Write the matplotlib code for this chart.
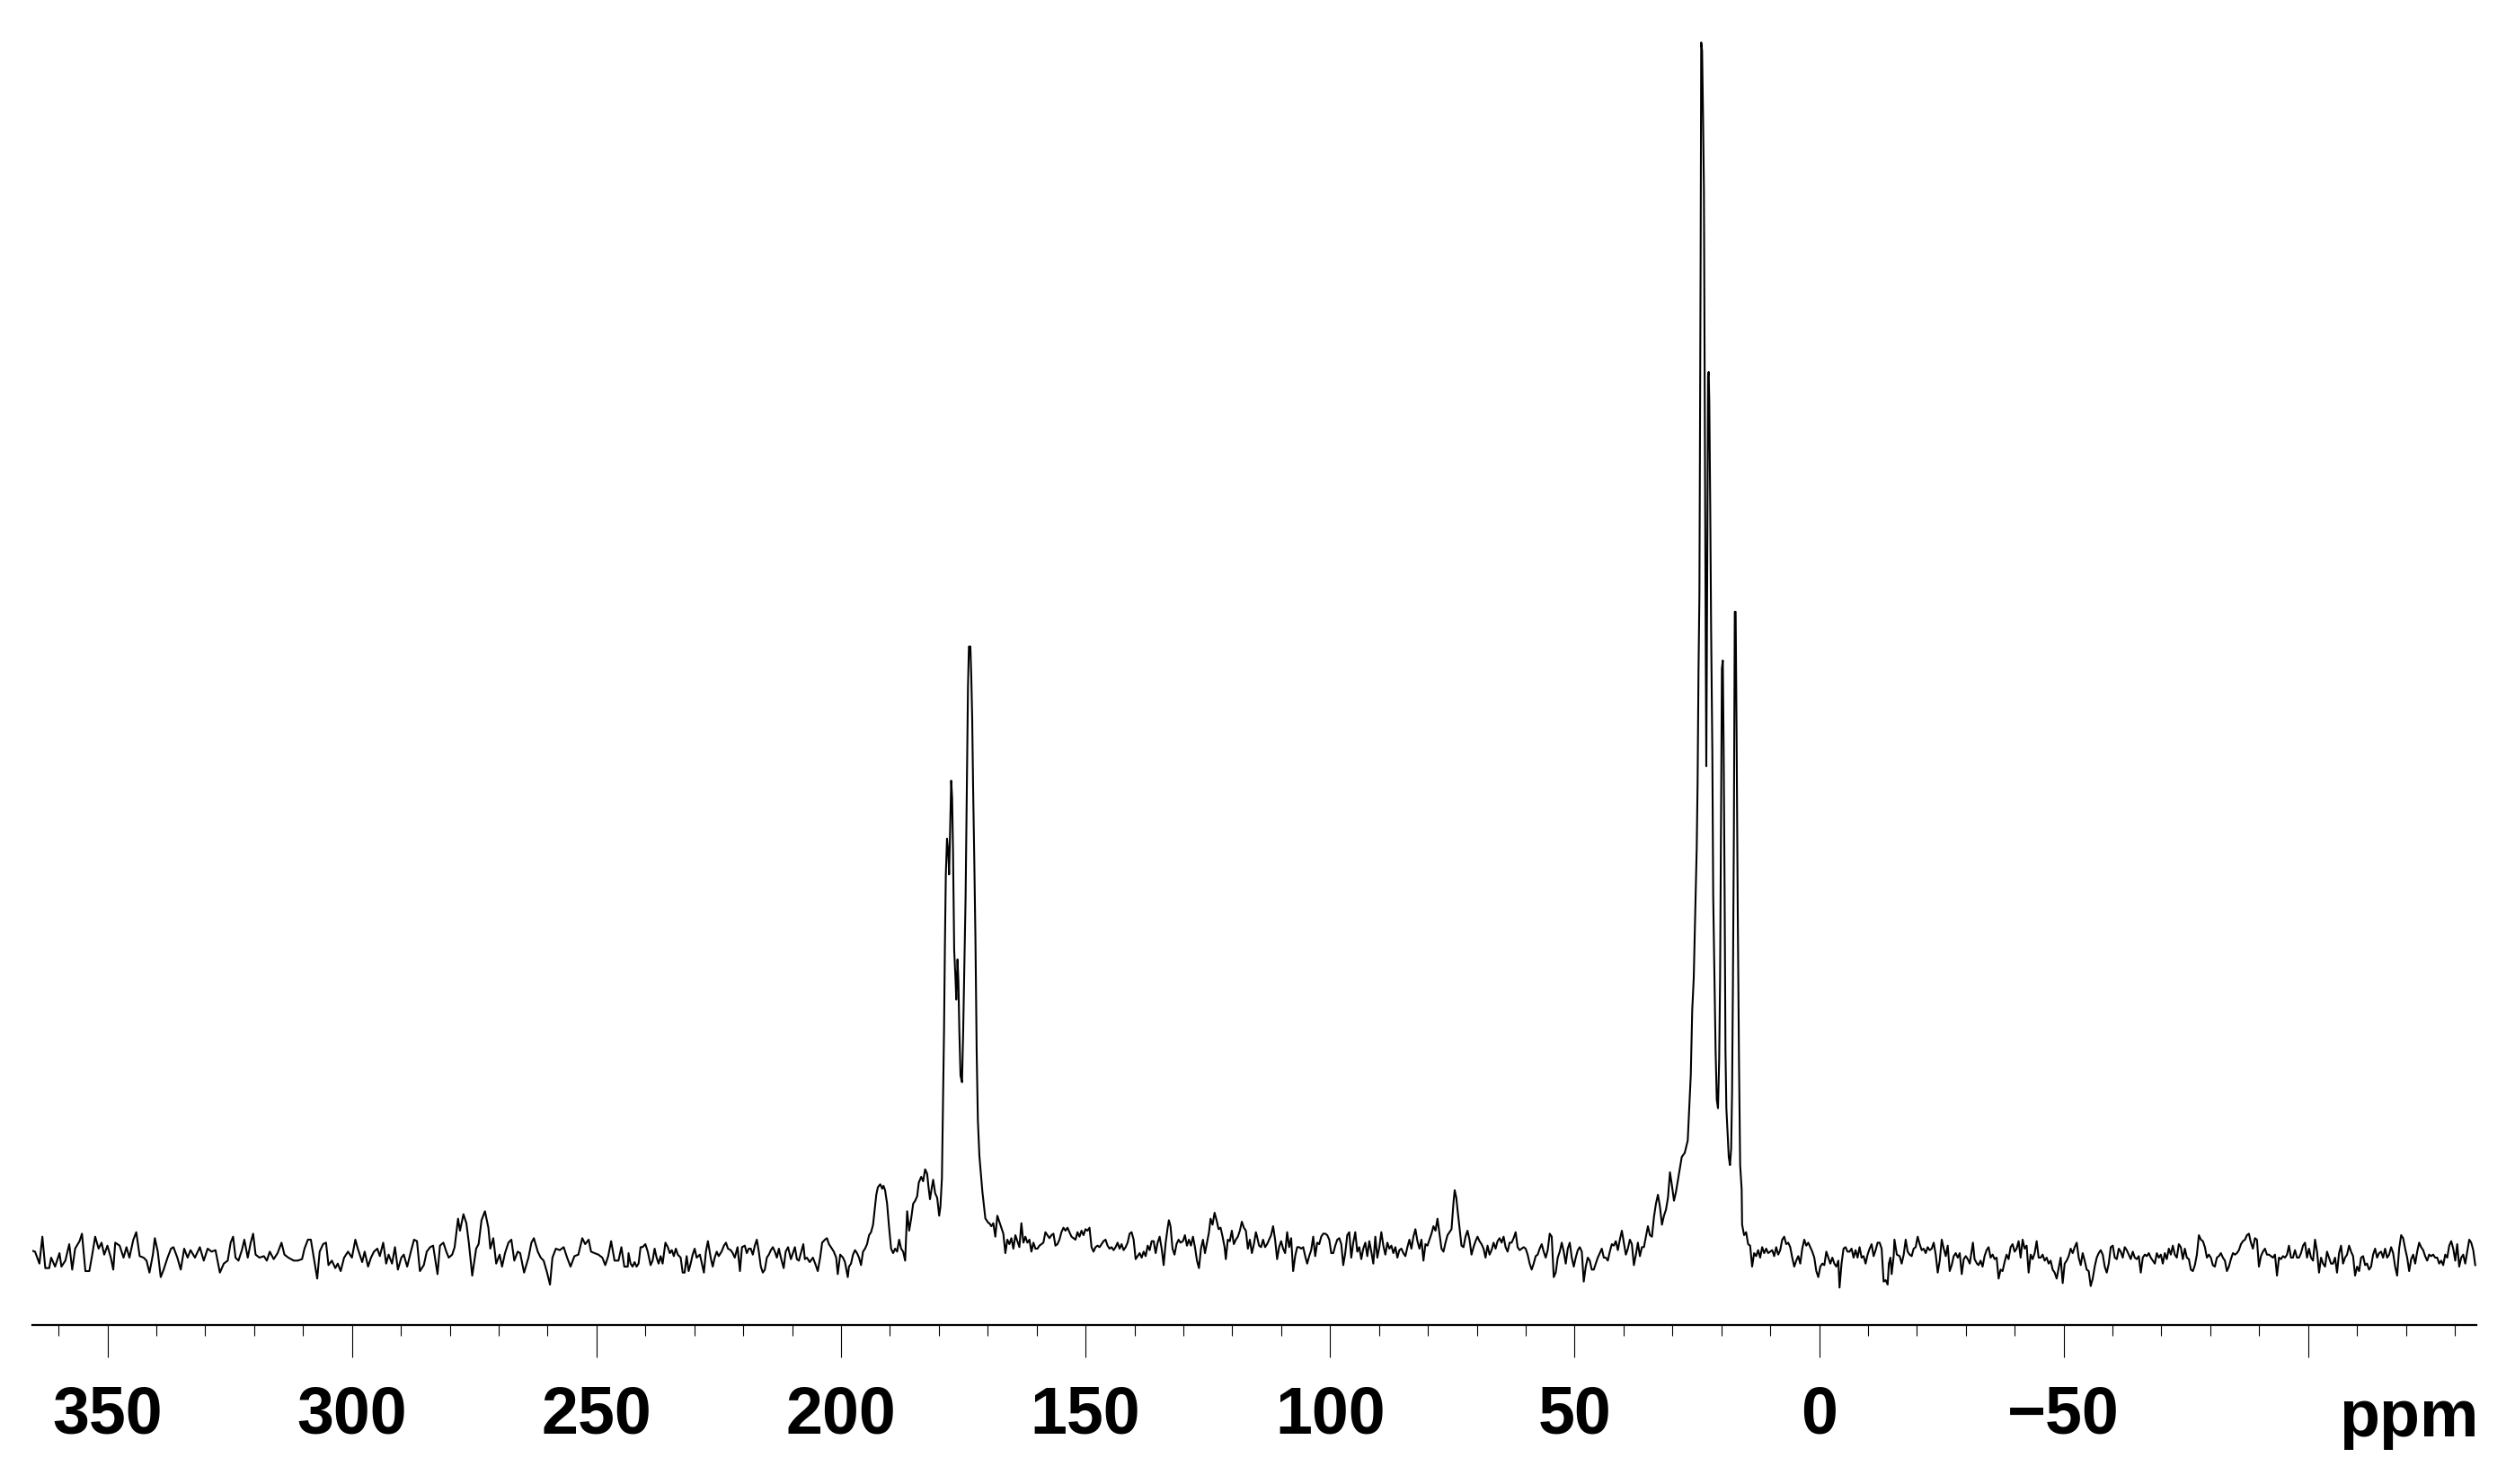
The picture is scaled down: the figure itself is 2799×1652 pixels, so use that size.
import numpy as np
import matplotlib.pyplot as plt
from matplotlib.ticker import FixedLocator, MultipleLocator
import matplotlib.transforms as mtransforms

plt.rcParams['font.family'] = ['Liberation Sans', 'DejaVu Sans']
plt.rcParams['font.weight'] = 'bold'

# spectrum traced piece by piece: (ppm, intensity in arbitrary units)
seg_a = [(365.2, 7), (364.8, 5), (363.9, -35), (363.3, 55), (362.7, -50), (361.9, -50), (361.5, -15),
         (360.7, -45), (359.8, 0), (359.4, -45), (358.6, -25), (357.8, 30), (357.2, -55), (356.6, 15),
         (355.7, 40), (355.2, 65), (354.5, -60), (353.7, -60), (353.1, -5), (352.5, 55), (351.8, 15),
         (351.2, 35), (350.65, -5), (350.0, 25), (349.3, -15), (348.8, -55), (348.4, 35), (347.5, 25),
         (346.7, -15), (346.1, 20), (345.5, -15), (344.7, 45), (344.1, 70), (343.4, -10), (342.6, -15),
         (342.0, -25), (341.4, -65), (340.7, -5), (340.3, 50), (339.7, 5), (339.1, -80), (338.5, -55),
         (337.7, -15), (337.0, 15), (336.5, 20), (335.7, -15), (335.0, -55), (334.3, 15), (333.6, -15),
         (333.0, 10), (332.1, -15), (331.1, 20), (330.3, -25), (329.5, 15), (328.7, 5), (327.9, 10),
         (327.0, -65), (326.2, -35), (325.4, -25), (324.8, 35), (324.3, 55), (323.8, -15), (323.2, -25),
         (322.5, 10), (322.0, 45), (321.3, -15), (320.7, 35), (320.2, 65), (319.7, -5), (318.9, -15),
         (318.0, -10), (317.4, -25), (316.8, 5), (316.0, -20), (315.2, 0), (314.4, 35), (313.8, -5),
         (313.0, -15), (311.9, -25), (311.1, -25), (310.2, -20), (309.7, 15), (309.0, 45), (308.4, 45),
         (307.8, -15), (307.1, -85), (306.6, 5), (305.9, 30), (305.3, 35), (304.8, -40), (304.1, -25),
         (303.4, -50), (302.9, -35), (302.3, -60), (301.6, -15), (300.8, 5), (300.0, -15), (299.3, 45),
         (298.8, 15), (297.9, -30), (297.4, 5), (296.7, -45), (296.1, -15), (295.5, 5), (294.8, 15),
         (294.3, -10), (293.6, 35), (293.0, -35), (292.5, -5), (291.8, -35), (291.2, 20), (290.6, -55),
         (289.9, -15), (289.4, -5), (288.7, -45), (287.95, 5), (287.3, 45), (286.7, 40), (286.1, -60),
         (285.3, -40), (284.7, 5), (284.0, 20), (283.4, 25), (282.5, -70), (282.0, 25), (281.3, 35),
         (280.7, 5), (280.2, -15), (279.5, -5), (279.0, 20), (278.3, 115), (277.9, 75), (277.2, 130),
         (276.6, 100), (276.1, 35), (275.4, -75), (274.6, 15), (274.1, 30), (273.5, 110), (272.8, 140),
         (272.1, 85), (271.7, 15), (271.1, 50), (270.5, -35), (269.8, -5), (269.3, -45), (268.7, 0),
         (268.0, 35), (267.4, 45), (266.8, -25), (266.1, 5), (265.6, 0), (264.8, -65), (263.9, -15),
         (263.3, 35), (262.8, 50), (262.0, 5), (261.4, -15), (260.8, -25), (260.1, -65), (259.5, -105),
         (259.0, -15), (258.3, 15), (257.5, 10), (256.7, 20), (256.0, -15), (255.3, -45), (254.5, -10),
         (253.7, -5), (252.9, 50), (252.3, 30), (251.6, 45), (251.1, 5), (250.4, 0), (249.6, -5),
         (248.8, -15), (248.2, -40), (247.6, -10), (247.0, 40), (246.3, -25), (245.5, -25), (244.9, 20),
         (244.3, -45), (243.6, -45)]

seg_b = [(243.44, 0), (243.03, -35), (242.62, -45), (242.21, -30), (241.80, -45), (241.39, -35),
         (240.98, 20), (240.57, 20), (240.0, 30), (239.51, 5), (238.93, -40), (238.52, -25), (238.11, 15),
         (237.70, -15), (237.29, -35), (236.88, -10), (236.47, -35), (235.90, 35), (235.41, 20), (235.0, 0),
         (234.59, 10), (234.18, -10), (233.77, 15), (233.36, -5), (232.78, -15), (232.37, -65),
         (231.97, -65), (231.56, -10), (231.15, -60), (230.74, -35), (230.33, -5), (229.92, 15),
         (229.51, -15), (228.85, -5), (228.44, -35), (228.03, -65), (227.62, 5), (227.21, 40),
         (226.64, -15), (226.23, -45), (225.82, -15), (225.41, 5), (225.0, -10), (224.42, 5), (223.93, 25),
         (223.52, 35), (223.11, 15), (222.54, 10), (222.13, 0), (221.72, -15), (221.15, 20), (220.66, -60),
         (220.24, 20), (219.67, 25), (219.26, 0), (218.85, 15), (218.44, 15), (218.03, -5), (217.62, 25),
         (217.21, 45), (216.80, 5), (216.39, -45), (215.98, -65), (215.57, -55), (215.16, -15),
         (214.75, -5), (214.34, 10), (213.93, 20), (213.52, 5), (213.11, -15), (212.70, 15), (212.29, -15),
         (211.72, -50), (211.31, 5), (210.82, 20), (210.24, -20), (209.83, 0), (209.42, 20), (209.02, -20),
         (208.61, -25), (208.20, 0), (207.70, 30), (207.38, -20), (206.97, -15), (206.39, -30),
         (205.74, -15), (205.16, -40), (204.75, -60), (204.26, -15), (203.85, 35), (203.28, 45),
         (202.87, 50), (202.46, 30), (202.05, 20), (201.47, 5), (200.98, -15), (200.66, -70),
         (200.16, -5), (199.59, -15), (199.18, -30), (198.61, -80), (198.36, -45), (197.95, -35),
         (197.54, -5), (197.13, 10), (196.72, 0), (196.31, -15), (195.90, -40), (195.49, 5), (195.08, 15),
         (194.67, 30), (194.26, 60), (193.85, 70), (193.44, 95), (193.11, 145), (192.78, 195),
         (192.46, 220), (191.97, 230), (191.56, 215), (191.31, 225), (190.98, 210), (190.57, 165),
         (190.16, 85), (189.75, 15), (189.34, 0), (188.93, 15), (188.52, 5), (188.11, 45), (187.70, 15),
         (187.29, 5), (186.88, -25), (186.47, 140), (186.06, 75), (185.65, 115), (185.24, 165),
         (184.83, 175), (184.42, 190), (184.10, 235), (183.60, 255), (183.20, 240), (182.79, 280),
         (182.38, 265), (182.13, 225), (181.80, 180), (181.47, 215), (181.15, 245), (180.74, 200),
         (180.33, 185), (179.92, 125), (179.67, 155)]

seg_c = [(179.36, 250), (179.17, 459), (178.93, 743), (178.74, 1041), (178.56, 1265), (178.32, 1384),
         (178.07, 1340), (177.89, 1265), (177.70, 1399), (177.46, 1578), (177.27, 1519), (177.09, 1340),
         (176.85, 1011), (176.60, 922), (176.42, 847), (176.17, 981), (175.99, 907), (175.80, 743),
         (175.56, 593), (175.25, 571), (175.01, 743), (174.76, 967), (174.52, 1190), (174.27, 1563),
         (174.03, 1892), (173.84, 2026), (173.54, 2026), (173.35, 1922), (173.17, 1787), (172.99, 1563),
         (172.74, 1310), (172.50, 1041), (172.25, 668), (172.01, 444), (171.70, 325), (171.39, 265),
         (171.09, 206), (170.48, 116), (169.86, 101)]

seg_d = [(169.67, 100), (169.26, 90), (168.85, 100), (168.44, 55), (168.03, 125), (167.62, 105),
         (167.21, 85), (166.80, 65), (166.39, 0), (165.98, 45), (165.57, 30), (165.16, 50), (164.75, 15),
         (164.34, 60), (163.93, 40), (163.52, 20), (163.11, 100), (162.70, 35), (162.29, 55), (161.88, 35),
         (161.47, 45), (161.06, 5), (160.65, 35), (160.24, 15), (159.83, 15), (159.42, 25), (159.02, 30),
         (158.61, 35), (158.20, 70), (157.79, 60), (157.38, 50), (156.97, 60), (156.56, 65), (156.15, 25),
         (155.74, 30), (155.33, 45), (154.92, 70), (154.51, 85), (154.10, 75), (153.69, 85), (153.28, 70),
         (152.87, 55), (152.46, 50), (152.05, 45), (151.64, 70), (151.23, 55), (150.82, 75), (150.41, 60),
         (150.0, 80), (149.59, 75), (149.18, 85), (148.77, 20), (148.36, 5), (147.95, 20), (147.54, 25),
         (147.13, 20), (146.72, 30), (146.31, 40), (145.90, 45), (145.49, 25), (145.08, 15), (144.67, 20),
         (144.26, 10), (143.85, 20), (143.44, 35), (143.03, 15), (142.62, 30), (142.21, 10), (141.80, 20),
         (141.39, 35), (140.98, 65), (140.57, 70), (140.16, 45), (139.75, -20), (139.34, -10), (138.93, 0),
         (138.52, -15), (138.11, 5), (137.70, -10), (137.29, 25), (136.88, 10), (136.47, 40), (136.06, 40),
         (135.66, 0), (135.25, 35), (134.84, 55), (134.43, 15), (134.02, -40), (133.61, 35), (133.20, 85),
         (132.95, 110), (132.62, 90), (132.21, 15), (131.80, -5), (131.39, 30), (130.98, 45), (130.57, 35),
         (130.08, 40), (129.67, 60), (129.26, 25), (128.85, 45), (128.44, 25), (128.03, 55), (127.62, 20),
         (127.21, -25), (126.80, -50), (126.39, 15), (125.98, 45), (125.57, 0), (125.16, 35), (124.75, 70),
         (124.43, 115), (124.02, 95), (123.61, 135), (123.20, 110), (122.79, 80), (122.38, 85),
         (121.97, 55), (121.56, 20), (121.31, -20), (120.90, 45), (120.49, 40), (120.08, 75), (119.67, 30),
         (119.26, 45), (118.85, 55), (118.44, 75), (118.03, 105), (117.62, 85), (117.21, 75), (116.80, 15),
         (116.39, 45), (115.98, 0), (115.57, 30), (115.16, 70), (114.92, 55)]

seg_e = [(114.51, 25), (114.10, 20), (113.69, 45), (113.28, 20), (112.87, 30), (112.46, 45), (112.05, 60),
         (111.64, 90), (111.23, 45), (110.82, -20), (110.41, 20), (110.0, 40), (109.59, 15), (109.18, 0),
         (108.77, 70), (108.36, 20), (107.95, 50), (107.54, -60), (107.13, -10), (106.72, 20), (106.31, 20),
         (105.90, 15), (105.49, 20), (105.08, -10), (104.67, -35), (104.26, -10), (103.85, 10), (103.44, 55),
         (103.03, -10), (102.62, 35), (102.21, 30), (101.80, 55), (101.39, 65), (100.98, 65), (100.57, 60),
         (100.16, 45), (99.75, 0), (99.34, 0), (98.93, 25), (98.52, 45), (98.11, 50), (97.70, 30),
         (97.30, -40), (96.89, 0), (96.48, 60), (96.07, 70), (95.66, -15), (95.25, 35), (94.84, 70),
         (94.43, 5), (94.02, 20), (93.61, -20), (93.20, 15), (92.79, 35), (92.38, -10), (91.97, 40),
         (91.56, 5), (91.15, -35), (90.74, 55), (90.33, -15), (89.92, 20), (89.51, 70), (89.10, 25),
         (88.69, -5), (88.28, 35), (87.87, 15), (87.46, 25), (87.05, 0), (86.64, 20), (86.23, -15),
         (85.82, 10), (85.41, 15), (85.0, 0), (84.59, -10), (84.18, 20), (83.77, 45), (83.36, 15),
         (82.95, 55), (82.54, 80), (82.13, 40), (81.72, 15), (81.31, 45), (80.90, -25), (80.49, 30),
         (80.08, 25), (79.67, 45), (79.26, 65), (78.85, 90), (78.44, 75), (78.03, 115), (77.62, 65),
         (77.21, 15), (76.80, 5), (76.39, 35), (75.98, 60), (75.57, 70), (75.16, 80), (74.75, 170),
         (74.51, 210), (74.18, 185), (73.93, 145), (73.52, 85), (73.12, 25), (72.71, 20), (72.30, 55),
         (71.89, 75), (71.48, 45), (71.07, -5), (70.66, 20), (70.25, 40), (69.84, 55), (69.43, 40),
         (69.02, 30), (68.61, 15), (68.20, -15), (67.79, 25), (67.38, -5), (66.97, 10), (66.56, 35),
         (66.15, 15), (65.74, 40), (65.33, 50), (64.92, 35), (64.51, 55), (64.10, 20), (63.69, 5),
         (63.28, 35), (62.87, 35), (62.46, 50), (62.05, 70), (61.64, 20), (61.23, 10), (60.82, 15),
         (60.41, 20), (60.0, 15), (59.59, -5), (59.18, -35), (58.77, -55), (58.36, -35), (57.95, -10),
         (57.54, -5), (57.13, 15), (56.72, 30), (56.31, 5), (55.90, -15), (55.49, 10), (55.08, 65),
         (54.67, 55), (54.26, -80), (53.85, -65), (53.44, -15), (53.03, 5), (52.62, 35), (52.21, 5),
         (51.80, -35), (51.39, 15), (50.98, 35), (50.57, -15), (50.16, -45), (49.76, -15), (49.34, 10),
         (48.94, 20), (48.52, 5), (48.12, -95), (47.71, -45), (47.30, -15), (46.89, -25), (46.48, -55),
         (46.07, -55), (45.66, -35), (45.25, -15), (44.84, 0), (44.43, 15), (44.02, -15), (43.61, -15),
         (43.20, -25), (42.79, 5), (42.38, 30), (41.97, 25), (41.56, 40), (41.15, 10), (40.74, 45),
         (40.33, 75), (39.92, 35), (39.51, -5), (39.10, 15), (38.69, 45), (38.28, 30), (37.87, -40),
         (37.46, -5), (37.05, 35), (36.64, -10), (36.23, 20), (35.82, 20), (35.41, 55), (35.00, 90),
         (34.59, 60), (34.18, 55), (33.77, 120), (33.36, 165), (32.95, 195), (32.54, 155), (32.13, 95),
         (31.72, 125), (31.31, 145), (30.90, 185), (30.49, 270), (30.08, 225), (29.67, 175), (29.26, 205),
         (28.85, 245), (28.44, 285)]

seg_f = [(28.08, 321), (27.47, 335), (26.86, 376), (26.55, 484), (26.24, 593), (25.94, 811), (25.63, 919),
         (25.33, 1137), (25.02, 1354), (24.84, 1571), (24.65, 1952), (24.47, 2196), (24.35, 2739),
         (24.22, 3337), (24.10, 4043), (23.92, 4016), (23.73, 3799), (23.55, 3554), (23.43, 3038),
         (23.30, 2441), (23.18, 2033), (23.06, 1626), (22.94, 2033), (22.81, 2441), (22.69, 2930),
         (22.57, 2943), (22.45, 2848), (22.26, 2495), (22.08, 2087), (21.83, 1680), (21.65, 1191),
         (21.40, 919), (21.16, 675), (20.92, 512), (20.67, 484), (20.43, 647), (20.24, 919), (20.06, 1408),
         (19.87, 1952), (19.69, 1979), (19.51, 1680), (19.32, 1218), (19.14, 675), (18.96, 484),
         (18.71, 403), (18.47, 321), (18.22, 294), (17.98, 348), (17.79, 539), (17.61, 919), (17.42, 1408),
         (17.24, 2142), (17.06, 2142), (16.87, 1734), (16.63, 1137), (16.38, 647), (16.14, 294),
         (15.83, 213)]

seg_g = [(15.74, 95), (15.33, 60), (14.92, 70), (14.51, 30), (14.10, 25), (13.69, -45), (13.28, 0),
         (12.87, -10), (12.46, 10), (12.05, -15), (11.64, 20), (11.23, 0), (10.82, 15), (10.41, 0),
         (10.0, 5), (9.59, 10), (9.18, -10), (8.77, 20), (8.36, -5), (7.95, 10), (7.54, 45), (7.13, 55),
         (6.72, 30), (6.31, 35), (5.90, 20), (5.49, -15), (5.08, -45), (4.67, -25), (4.26, -10),
         (3.85, -35), (3.44, 15), (3.03, 45), (2.62, 25), (2.21, 35), (1.80, 20), (1.39, 5), (0.98, -15),
         (0.57, -60), (0.16, -80), (-0.25, -45), (-0.66, -35), (-1.07, -40), (-1.48, 5), (-1.89, -15),
         (-2.30, -35), (-2.71, -15), (-3.12, -35), (-3.53, -45), (-3.94, -25), (-4.18, -115), (-4.59, -35),
         (-5.0, 15), (-5.41, 20), (-5.82, 5), (-6.23, 5), (-6.64, 15), (-7.05, -15), (-7.46, 10),
         (-7.87, -15), (-8.28, 20), (-8.69, -15), (-9.10, -10), (-9.51, -35), (-9.92, -5), (-10.33, 15),
         (-10.74, 30), (-11.15, -10), (-11.56, 10), (-11.97, 35), (-12.38, 35), (-12.79, 15),
         (-13.20, -95)]

seg_h = [(-13.61, -90), (-14.02, -105), (-14.27, -35), (-14.59, -15), (-14.84, -70), (-15.25, -10),
         (-15.41, 45), (-15.90, -5), (-16.48, -10), (-16.89, -35), (-17.30, -5), (-17.71, 45), (-18.11, 5),
         (-18.52, -5), (-18.93, -10), (-19.34, 15), (-19.75, 20), (-20.16, 55), (-20.57, 30), (-20.98, 10),
         (-21.39, 15), (-21.80, 0), (-22.21, 20), (-22.62, 10), (-23.03, 15), (-23.44, 35), (-23.85, -5),
         (-24.26, -65), (-24.67, -25), (-25.08, 45), (-25.49, 15), (-25.90, -10), (-26.30, 25),
         (-26.71, -60), (-27.12, -40), (-27.53, -10), (-27.94, 0), (-28.35, -15), (-28.76, 0),
         (-29.17, -70), (-29.58, -20), (-29.99, -10), (-30.40, -20), (-30.81, -35), (-31.22, 10),
         (-31.46, 35), (-31.79, -20), (-32.28, -35), (-32.61, -40), (-33.02, -25), (-33.43, -45),
         (-33.84, -10), (-34.25, 10), (-34.66, 20), (-35.07, -15), (-35.48, -5), (-35.89, -20),
         (-36.30, -15), (-36.71, -85), (-37.12, -55), (-37.52, -60), (-37.93, -30), (-38.34, -5),
         (-38.75, -20), (-39.16, 20), (-39.57, 30), (-39.98, 5), (-40.39, 15), (-40.80, 40), (-41.21, -15),
         (-41.62, 45), (-42.03, 15), (-42.44, 25), (-42.85, -65), (-43.26, -5), (-43.67, -20), (-44.08, 0),
         (-44.49, 40), (-44.90, -15), (-45.31, -15), (-45.71, -5), (-46.12, -25), (-46.53, -15),
         (-46.94, -35), (-47.35, -25), (-47.76, -55), (-48.17, -65), (-48.58, -85), (-48.99, -50),
         (-49.40, -15), (-49.81, -100), (-50.22, -35), (-50.63, -25), (-51.04, -10), (-51.45, 15),
         (-51.86, 0), (-52.27, 20), (-52.68, 35), (-53.09, -15), (-53.50, -40), (-53.90, 0), (-54.31, -25),
         (-54.72, -55), (-55.13, -60), (-55.54, -110), (-55.95, -85), (-56.36, -45), (-56.77, -15),
         (-57.18, 0), (-57.59, 10), (-58.00, -5), (-58.41, -45), (-58.82, -65), (-59.23, -35), (-59.64, 20),
         (-60.05, 25), (-60.46, -15), (-60.87, -20), (-61.28, 15), (-61.69, 5), (-62.09, -15), (-62.50, 20),
         (-62.91, 10), (-63.32, -5), (-63.73, -20), (-64.14, 5), (-64.55, -15), (-64.96, -20),
         (-65.37, -10), (-65.78, -65), (-66.19, -15), (-66.60, -5), (-67.01, -10), (-67.42, 0),
         (-67.83, -15), (-68.24, -25), (-68.65, -35), (-69.06, 0), (-69.47, -15), (-69.88, -5),
         (-70.28, -35), (-70.69, 0), (-71.10, -20), (-71.51, 15), (-71.92, -5), (-72.33, 25), (-72.74, -5),
         (-73.15, -15), (-73.56, 30), (-73.97, 20), (-74.38, -20), (-74.79, 15), (-75.20, -15),
         (-75.61, -20), (-76.02, -55), (-76.43, -60), (-76.84, -40), (-77.25, -5), (-77.66, 60),
         (-78.07, 45), (-78.48, 40), (-78.89, 20), (-79.30, -15), (-79.70, -5), (-80.11, -15), (-80.52, -40),
         (-80.93, -45), (-81.34, -15), (-81.75, -10), (-82.16, 0), (-82.57, -15), (-82.98, -25),
         (-83.39, -60), (-83.80, -45), (-84.21, -20), (-84.62, 0), (-85.03, -5), (-85.44, 0), (-85.85, 10),
         (-86.26, 30), (-86.67, 40), (-87.08, 45), (-87.49, 60), (-87.89, 65), (-88.30, 35), (-88.71, 15),
         (-89.12, 50), (-89.53, 45), (-89.94, -45), (-90.35, -10), (-90.76, 5), (-91.17, 15), (-91.58, -5),
         (-91.99, -5), (-92.40, -10), (-92.81, -15), (-93.22, -5), (-93.63, -75), (-94.04, -15),
         (-94.45, -20), (-94.86, -10), (-95.27, -15), (-95.68, -5), (-96.08, 25), (-96.49, -15),
         (-96.90, -15), (-97.31, 10), (-97.72, -15), (-98.13, -15), (-98.54, 0), (-98.95, 25), (-99.36, 35),
         (-99.77, -15), (-100.18, 15), (-100.59, -15), (-101.00, -25), (-101.41, 45), (-101.82, 5),
         (-102.23, -65), (-102.64, -15), (-103.05, -35), (-103.46, -45), (-103.86, 5), (-104.27, -15),
         (-104.68, -35), (-105.09, -35), (-105.50, -15), (-105.91, -65), (-106.32, 0), (-106.73, 25),
         (-107.14, -35), (-107.55, -15), (-107.96, -5), (-108.37, 25), (-108.78, 5), (-109.19, -10),
         (-109.60, -75), (-110.01, -45), (-110.42, -60), (-110.83, -15), (-111.24, -10), (-111.65, -40),
         (-112.05, -35), (-112.46, -55), (-112.87, -45), (-113.28, -5), (-113.69, 15), (-114.10, -15),
         (-114.51, 0), (-114.92, 5), (-115.33, -15), (-115.74, 15), (-116.15, -15), (-116.56, -5),
         (-116.97, 20), (-117.38, 0), (-117.79, -45), (-118.20, -75), (-118.61, 15), (-119.02, 60),
         (-119.43, 50), (-119.84, 15), (-120.25, -15), (-120.66, -60), (-121.07, -20), (-121.48, -5),
         (-121.89, -35), (-122.30, 5), (-122.70, 35), (-123.11, 20), (-123.52, 10), (-123.93, -10),
         (-124.34, -25), (-124.75, -5), (-125.16, -10), (-125.57, -5), (-125.98, -15), (-126.39, -15),
         (-126.80, -35), (-127.21, -25), (-127.62, -40), (-128.03, -5), (-128.44, -15), (-128.85, 25),
         (-129.26, 40), (-129.67, 15), (-130.08, -25), (-130.48, 30), (-130.89, -45), (-131.30, -15),
         (-131.71, -5), (-132.12, -35), (-132.53, 5), (-132.94, 45), (-133.35, 35), (-133.76, 10),
         (-134.17, -40)]

major_ticks = [350, 300, 250, 200, 150, 100, 50, 0, -50, -100]
major_labels = ['350', '300', '250', '200', '150', '100', '50', '0', '\u221250', '']

spec = np.array(seg_a + seg_b + seg_c + seg_d + seg_e + seg_f + seg_g + seg_h)
ppm = spec[:, 0]
inten = spec[:, 1]

fig = plt.figure(figsize=(27.99, 16.52), dpi=100)
ax = fig.add_axes([0.01276, 0.10714, 0.97188, 0.88075])
ax.plot(ppm, inten, color='black', lw=1.5)
ax.set_xlim(365.4, -134.4)
ax.set_ylim(-240, 4125)

for s in ['top', 'left', 'right']:
    ax.spines[s].set_visible(False)
ax.spines['bottom'].set_linewidth(1.6)
ax.set_yticks([])

ax.xaxis.set_major_locator(FixedLocator(major_ticks))
ax.set_xticklabels(major_labels)
ax.xaxis.set_minor_locator(MultipleLocator(10))
ax.tick_params(axis='x', which='major', length=26, width=0.8, pad=22, labelsize=53)
ax.tick_params(axis='x', which='minor', length=8.6, width=0.8)

trans = mtransforms.blended_transform_factory(ax.transData, ax.transAxes)
ax.text(-120.6, -0.0852, 'ppm', transform=trans, ha='center', va='baseline',
        fontsize=53, fontweight='bold')

fig.savefig('out.png', dpi=100)
